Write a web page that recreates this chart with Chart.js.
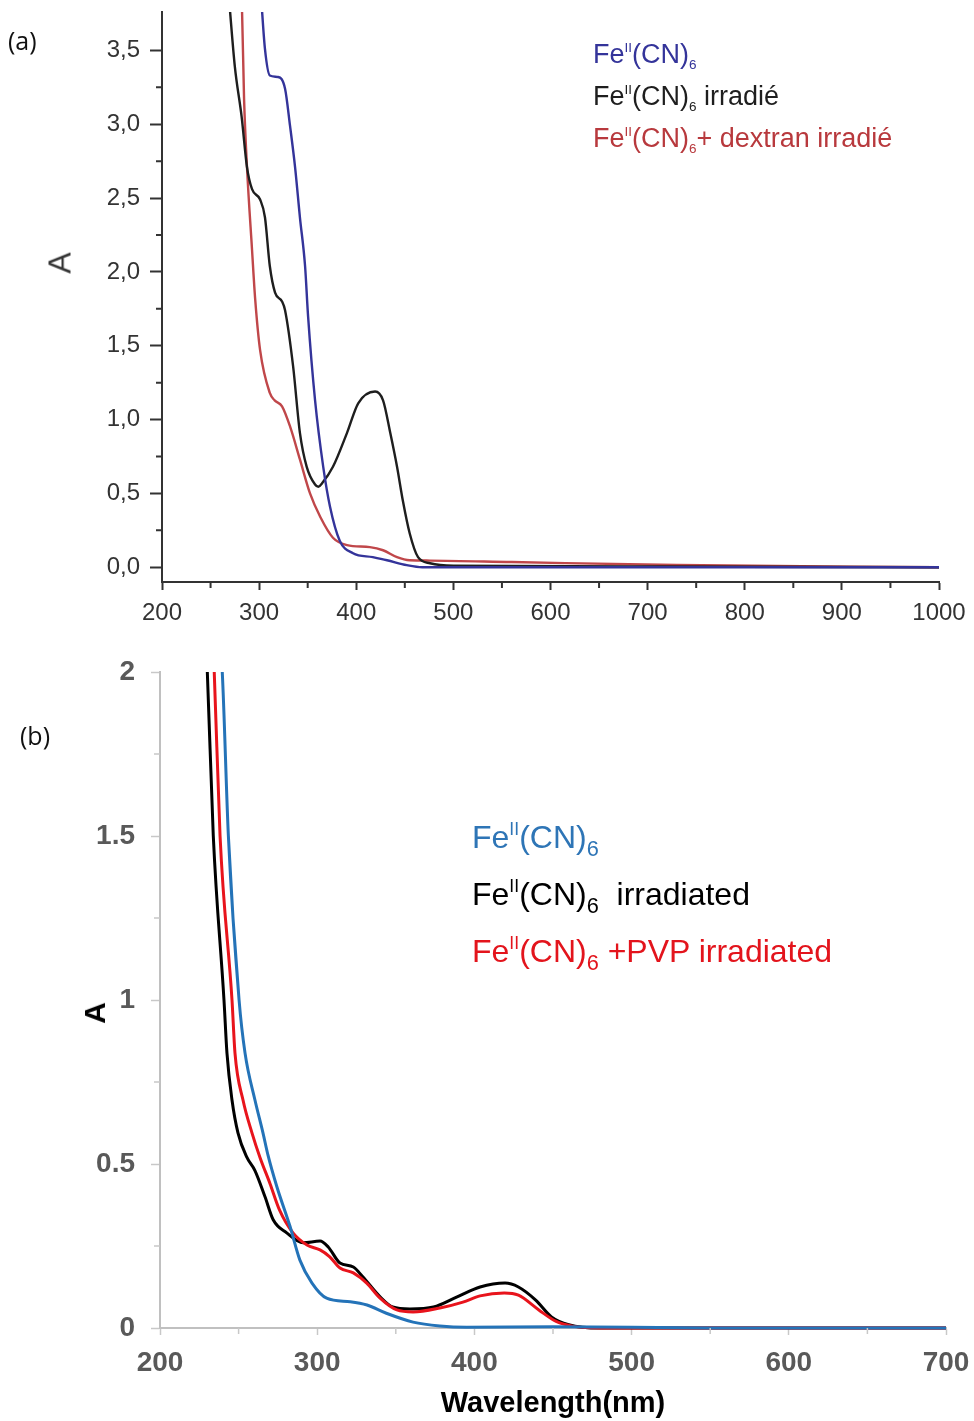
<!DOCTYPE html>
<html>
<head>
<meta charset="utf-8">
<script src="https://cdn.jsdelivr.net/npm/chart.js@4.4.1/dist/chart.umd.min.js"></script>
<style>
  body { margin: 0; background: #fff; }
  #page { position: relative; width: 974px; height: 1421px; overflow: hidden; background: #fff; }
  canvas { position: absolute; left: 0; }
  .txt { position: absolute; white-space: nowrap; font-family: 'Liberation Sans', Arial, sans-serif; }
  .panel { position: absolute; font-family: 'Open Sans', Lato, sans-serif; font-size: 25px; color: #111; }
  .ytitle { position: absolute; transform: translate(-50%, -50%) rotate(-90deg); font-family: 'Liberation Sans', Arial, sans-serif; }
  .legA { font-size: 27px; line-height: 30px; }
  .legB { font-size: 32px; line-height: 38px; }
  .legA sup { font-size: 0.5em; line-height: 0; vertical-align: 0.85em; }
  .legA sub { font-size: 0.5em; line-height: 0; vertical-align: -0.45em; }
  .legB sup { font-size: 0.55em; line-height: 0; vertical-align: 0.75em; }
  .legB sub { font-size: 0.68em; line-height: 0; vertical-align: -0.35em; }
</style>
</head>
<body>
<div id="page">
  <canvas id="chartA" width="974" height="640" style="top:0"></canvas>
  <canvas id="chartB" width="974" height="781" style="top:640px"></canvas>

  <div class="panel" style="left:8px;top:23px">(a)</div>
  <div class="panel" style="left:20px;top:718px">(b)</div>

  <div class="ytitle" style="left:60px;top:263px;font-size:32px;color:#333">A</div>
  <div class="ytitle" style="left:95px;top:1013px;font-size:30px;font-weight:bold;color:#000">A</div>

  <div class="txt legA" style="left:593px;top:39px;color:#34349a">Fe<sup>II</sup>(CN)<sub>6</sub></div>
  <div class="txt legA" style="left:593px;top:81px;color:#1e1e1e">Fe<sup>II</sup>(CN)<sub>6</sub> irradié</div>
  <div class="txt legA" style="left:593px;top:123px;color:#b8393d">Fe<sup>II</sup>(CN)<sub>6</sub>+ dextran irradié</div>

  <div class="txt legB" style="left:472px;top:818px;color:#2e75b6">Fe<sup>II</sup>(CN)<sub>6</sub></div>
  <div class="txt legB" style="left:472px;top:875px;color:#000">Fe<sup>II</sup>(CN)<sub>6</sub>&nbsp; irradiated</div>
  <div class="txt legB" style="left:472px;top:932px;color:#e3141c">Fe<sup>II</sup>(CN)<sub>6</sub> +PVP irradiated</div>
</div>

<script>
// ---- panel (a) : wavelengths (nm) and absorbance ----
var wlA_fe    = [299, 303, 306, 311, 319.5, 326.7, 331.8, 337, 342, 347.3, 350.4, 357.6, 366, 373, 383, 396.7, 417, 431.7, 452, 468, 600, 800, 1000];
var absA_fe   = [4.2, 3.77, 3.51, 3.33, 3.32, 3.24, 2.99, 2.71, 2.37, 2.04, 1.70, 1.13, 0.68, 0.41, 0.18, 0.095, 0.068, 0.047, 0.014, 0.0, 0.0, 0.0, 0.0];

var wlA_irr   = [266, 270, 275, 282, 287.5, 292.7, 301, 306, 311, 316.4, 323.6, 326.7, 335, 342, 349, 357.6, 361, 365, 376, 390.5, 402, 419.4, 427.6, 435, 442, 448, 455, 463.6, 476, 500, 700, 1000];
var absA_irr  = [4.1, 3.77, 3.39, 3.05, 2.71, 2.56, 2.49, 2.37, 2.04, 1.86, 1.80, 1.74, 1.36, 0.91, 0.68, 0.56, 0.545, 0.57, 0.68, 0.91, 1.11, 1.19, 1.13, 0.91, 0.68, 0.45, 0.23, 0.068, 0.027, 0.01, 0.005, 0.0];

var wlA_dex   = [279, 282.4, 284.5, 287.5, 292.7, 296, 301, 311, 316, 323.6, 332, 342, 352.4, 363, 376, 390.5, 414, 427.6, 442, 455, 476, 560, 730, 1000];
var absA_dex  = [4.2, 3.77, 3.17, 2.71, 2.15, 1.81, 1.47, 1.18, 1.13, 1.09, 0.95, 0.73, 0.50, 0.34, 0.20, 0.15, 0.136, 0.115, 0.068, 0.047, 0.045, 0.035, 0.015, 0.0];

var xTicksA      = [200, 300, 400, 500, 600, 700, 800, 900, 1000];
var xMinorTicksA = [250, 350, 450, 550, 650, 750, 850, 950];
var yTicksA      = [0, 0.5, 1, 1.5, 2, 2.5, 3, 3.5];
var yMinorTicksA = [0.25, 0.75, 1.25, 1.75, 2.25, 2.75, 3.25];

// ---- panel (b) ----
var wlB_fe    = [237, 239.6, 243.5, 250.3, 254.1, 260.4, 265.5, 268.7, 274.4, 282.7, 289, 296.7, 306, 321, 331.7, 344, 361, 378, 395, 450, 550, 700];
var absB_fe   = [2.15, 2.0, 1.5, 1.0, 0.838, 0.695, 0.595, 0.527, 0.43, 0.31, 0.207, 0.137, 0.091, 0.08, 0.07, 0.045, 0.018, 0.006, 0.002, 0.004, 0.0, 0.0];

var wlB_irr   = [228.5, 230.1, 233.9, 240.7, 242.6, 245.8, 249.6, 255.3, 260.4, 266.8, 272, 280.6, 291, 301.8, 307, 314.5, 323, 329, 340, 348, 359, 374, 389, 403.6, 419.5, 428, 439, 449, 460, 480, 700];
var absB_irr  = [2.15, 2.0, 1.5, 1.0, 0.838, 0.695, 0.595, 0.52, 0.48, 0.40, 0.33, 0.29, 0.26, 0.265, 0.247, 0.198, 0.186, 0.156, 0.095, 0.064, 0.058, 0.064, 0.095, 0.125, 0.137, 0.125, 0.085, 0.034, 0.01, 0.0, 0.0];

var wlB_pvp   = [233, 234.5, 238.2, 245.8, 247.7, 252.8, 258.5, 263.6, 270, 276, 284.6, 293.5, 301.8, 308, 314.5, 323, 331.5, 340, 350.7, 361, 378, 392.7, 403.6, 419, 428, 441, 452, 463, 480, 700];
var absB_pvp  = [2.15, 2.0, 1.5, 1.0, 0.838, 0.695, 0.595, 0.52, 0.44, 0.36, 0.29, 0.253, 0.238, 0.217, 0.183, 0.168, 0.137, 0.091, 0.055, 0.049, 0.061, 0.079, 0.098, 0.107, 0.10, 0.055, 0.02, 0.005, 0.0, 0.0];

var xTicksB      = [200, 300, 400, 500, 600, 700];
var xMinorTicksB = [250, 350, 450, 550, 650];
var yTicksB      = [0, 0.5, 1, 1.5, 2];
var yMinorTicksB = [0.25, 0.75, 1.25, 1.75];

// pair up x and y arrays for a linear x axis
function pts(xs, ys) {
    return xs.map(function (x, i) { return { x: x, y: ys[i] }; });
}

function line(data, color, width) {
    return {
        data: data,
        borderColor: color,
        borderWidth: width,
        pointRadius: 0,
        fill: false,
        cubicInterpolationMode: 'monotone',
        clip: { left: 0, top: 0, right: 0, bottom: 6 }
    };
}

// Chart.js has no minor ticks, so draw them from the scales
var minorTicks = {
    id: 'minorTicks',
    afterDraw: function (chart, args, opts) {
        var ctx = chart.ctx, xs = chart.scales.x, ys = chart.scales.y;
        ctx.save();
        ctx.strokeStyle = opts.color;
        ctx.lineWidth = opts.width;
        ctx.beginPath();
        opts.x.forEach(function (v) {
            var p = xs.getPixelForValue(v);
            ctx.moveTo(p, xs.top);
            ctx.lineTo(p, xs.top + opts.len);
        });
        opts.y.forEach(function (v) {
            var p = ys.getPixelForValue(v);
            ctx.moveTo(ys.right, p);
            ctx.lineTo(ys.right - opts.len, p);
        });
        ctx.stroke();
        ctx.restore();
    }
};

function setTicks(values) {
    return function (axis) {
        axis.ticks = values.map(function (v) { return { value: v }; });
    };
}

// fixed axis sizes, and no extra room for the end labels
function fixX(h) {
    return function (s) { s.height = h; s.paddingLeft = 0; s.paddingRight = 0; };
}
function fixY(w) {
    return function (s) { s.width = w; s.paddingTop = 0; s.paddingBottom = 0; };
}

// (a) original spectra
new Chart(document.getElementById('chartA'), {
    type: 'line',
    data: {
        datasets: [
            line(pts(wlA_fe, absA_fe), '#34349a', 2.4),
            line(pts(wlA_irr, absA_irr), '#1e1e1e', 2.4),
            line(pts(wlA_dex, absA_dex), '#c0474a', 2.4)
        ]
    },
    plugins: [minorTicks],
    options: {
        responsive: false,
        animation: false,
        layout: { padding: { left: 0, top: 12, right: 35, bottom: 0 } },
        plugins: {
            legend: { display: false },
            tooltip: { enabled: false },
            minorTicks: { x: xMinorTicksA, y: yMinorTicksA, len: 6, color: '#333', width: 2 }
        },
        scales: {
            x: {
                type: 'linear', min: 200, max: 1000,
                afterBuildTicks: setTicks(xTicksA),
                afterFit: fixX(58),
                grid: { drawOnChartArea: false, drawTicks: true, tickLength: 8, tickColor: '#333', tickWidth: 2 },
                border: { display: true, color: '#333', width: 2 },
                ticks: { autoSkip: false, maxRotation: 0, padding: 9, color: '#333',
                         font: { family: "'Liberation Sans', Arial, sans-serif", size: 24 },
                         callback: function (v) { return String(v); } }
            },
            y: {
                min: -0.1, max: 3.76,
                afterBuildTicks: setTicks(yTicksA),
                afterFit: fixY(162),
                grid: { drawOnChartArea: false, drawTicks: true, tickLength: 12, tickColor: '#333', tickWidth: 2 },
                border: { display: true, color: '#333', width: 2 },
                ticks: { padding: 10, color: '#333',
                         font: { family: "'Liberation Sans', Arial, sans-serif", size: 24 },
                         callback: function (v) { return v.toFixed(1).replace('.', ','); } }
            }
        }
    }
});

// (b) PVP spectra
new Chart(document.getElementById('chartB'), {
    type: 'line',
    data: {
        datasets: [
            line(pts(wlB_fe, absB_fe), '#2473b8', 3),
            line(pts(wlB_pvp, absB_pvp), '#e8141c', 3),
            line(pts(wlB_irr, absB_irr), '#000000', 3)
        ]
    },
    plugins: [minorTicks],
    options: {
        responsive: false,
        animation: false,
        layout: { padding: { left: 0, top: 32, right: 28, bottom: 0 } },
        plugins: {
            legend: { display: false },
            tooltip: { enabled: false },
            minorTicks: { x: xMinorTicksB, y: yMinorTicksB, len: 6, color: '#c8c8c8', width: 1.5 }
        },
        scales: {
            x: {
                type: 'linear', min: 200, max: 700,
                afterBuildTicks: setTicks(xTicksB),
                afterFit: fixX(93),
                grid: { drawOnChartArea: false, drawTicks: true, tickLength: 7, tickColor: '#c8c8c8', tickWidth: 1.5 },
                border: { display: true, color: '#c0c0c0', width: 2 },
                ticks: { autoSkip: false, maxRotation: 0, padding: 11, color: '#595959',
                         font: { family: "'Liberation Sans', Arial, sans-serif", size: 28, weight: 'bold' },
                         callback: function (v) { return String(v); } },
                title: { display: true, text: 'Wavelength(nm)', color: '#000', padding: { top: 0, bottom: 0 },
                         font: { family: "'Liberation Sans', Arial, sans-serif", size: 29, weight: 'bold' } }
            },
            y: {
                min: 0, max: 2,
                afterBuildTicks: setTicks(yTicksB),
                afterFit: fixY(160),
                grid: { drawOnChartArea: false, drawTicks: true, tickLength: 9, tickColor: '#c8c8c8', tickWidth: 1.5 },
                border: { display: true, color: '#c0c0c0', width: 2 },
                ticks: { padding: 16, color: '#595959',
                         font: { family: "'Liberation Sans', Arial, sans-serif", size: 28, weight: 'bold' },
                         callback: function (v) { return String(v); } }
            }
        }
    }
});
</script>
</body>
</html>
